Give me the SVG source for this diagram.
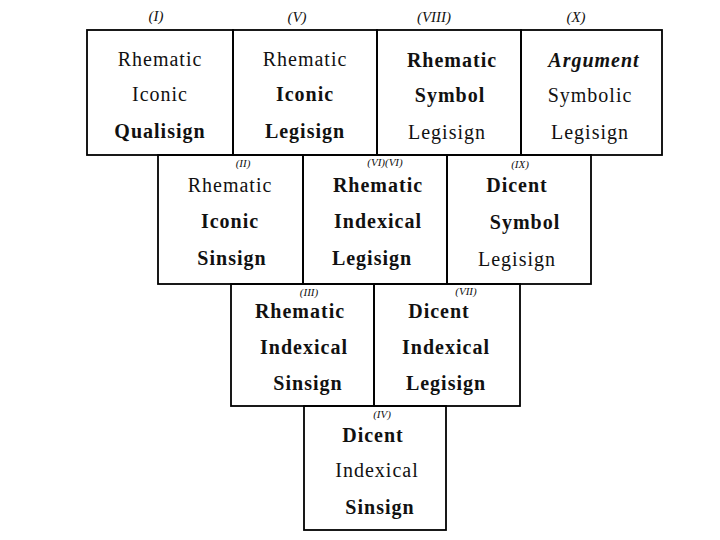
<svg xmlns="http://www.w3.org/2000/svg" width="720" height="540" viewBox="0 0 720 540">
<style>
.box{fill:none;stroke:#000;stroke-width:1.8}
.t{font-family:"Liberation Serif","DejaVu Serif",serif;font-size:20px;text-anchor:middle;fill:#111;letter-spacing:1px}
.b{font-weight:bold}
.n{font-family:"Liberation Serif","DejaVu Serif",serif;font-size:15px;font-style:italic;text-anchor:middle;fill:#111}
.ns{font-size:11px}
</style>
<rect width="720" height="540" fill="#fff"/>
<g id="c1">
<rect class="box" x="87" y="30" width="146" height="125"/>
<text class="n" x="156" y="21">(I)</text>
<text class="t" x="160" y="66">Rhematic</text>
<text class="t" x="160" y="101">Iconic</text>
<text class="t b" x="160" y="138">Qualisign</text>
</g>
<g id="c5">
<rect class="box" x="233" y="30" width="144" height="125"/>
<text class="n" x="297" y="22">(V)</text>
<text class="t" x="305" y="66">Rhematic</text>
<text class="t b" x="305" y="101">Iconic</text>
<text class="t b" x="305" y="138">Legisign</text>
</g>
<g id="c8">
<rect class="box" x="377" y="30" width="144" height="125"/>
<text class="n" x="434" y="22">(VIII)</text>
<text class="t b" x="452" y="67">Rhematic</text>
<text class="t b" x="450" y="102">Symbol</text>
<text class="t" x="447" y="139">Legisign</text>
</g>
<g id="c10">
<rect class="box" x="521" y="30" width="141" height="125"/>
<text class="n" x="576" y="22">(X)</text>
<text class="t b" x="594" y="67" font-style="italic">Argument</text>
<text class="t" x="590" y="102">Symbolic</text>
<text class="t" x="590" y="139">Legisign</text>
</g>
<g id="c2">
<rect class="box" x="158" y="155" width="145" height="129"/>
<text class="n ns" x="243" y="167">(II)</text>
<text class="t" x="230" y="192">Rhematic</text>
<text class="t b" x="230" y="228">Iconic</text>
<text class="t b" x="232" y="265">Sinsign</text>
</g>
<g id="c6">
<rect class="box" x="303" y="155" width="144" height="129"/>
<text class="n ns" x="385" y="166">(VI)(VI)</text>
<text class="t b" x="378" y="192">Rhematic</text>
<text class="t b" x="378" y="228">Indexical</text>
<text class="t b" x="372" y="265">Legisign</text>
</g>
<g id="c9">
<rect class="box" x="447" y="155" width="144" height="129"/>
<text class="n ns" x="520" y="168">(IX)</text>
<text class="t b" x="517" y="192">Dicent</text>
<text class="t b" x="525" y="229">Symbol</text>
<text class="t" x="517" y="266">Legisign</text>
</g>
<g id="c3">
<rect class="box" x="231" y="284" width="143" height="122"/>
<text class="n ns" x="309" y="296">(III)</text>
<text class="t b" x="300" y="318">Rhematic</text>
<text class="t b" x="304" y="354">Indexical</text>
<text class="t b" x="308" y="390">Sinsign</text>
</g>
<g id="c7">
<rect class="box" x="374" y="284" width="146" height="122"/>
<text class="n ns" x="466" y="295">(VII)</text>
<text class="t b" x="439" y="318">Dicent</text>
<text class="t b" x="446" y="354">Indexical</text>
<text class="t b" x="446" y="390">Legisign</text>
</g>
<g id="c4">
<rect class="box" x="304" y="406" width="142" height="124"/>
<text class="n ns" x="382" y="418">(IV)</text>
<text class="t b" x="373" y="442">Dicent</text>
<text class="t" x="377" y="477">Indexical</text>
<text class="t b" x="380" y="514">Sinsign</text>
</g>
</svg>
